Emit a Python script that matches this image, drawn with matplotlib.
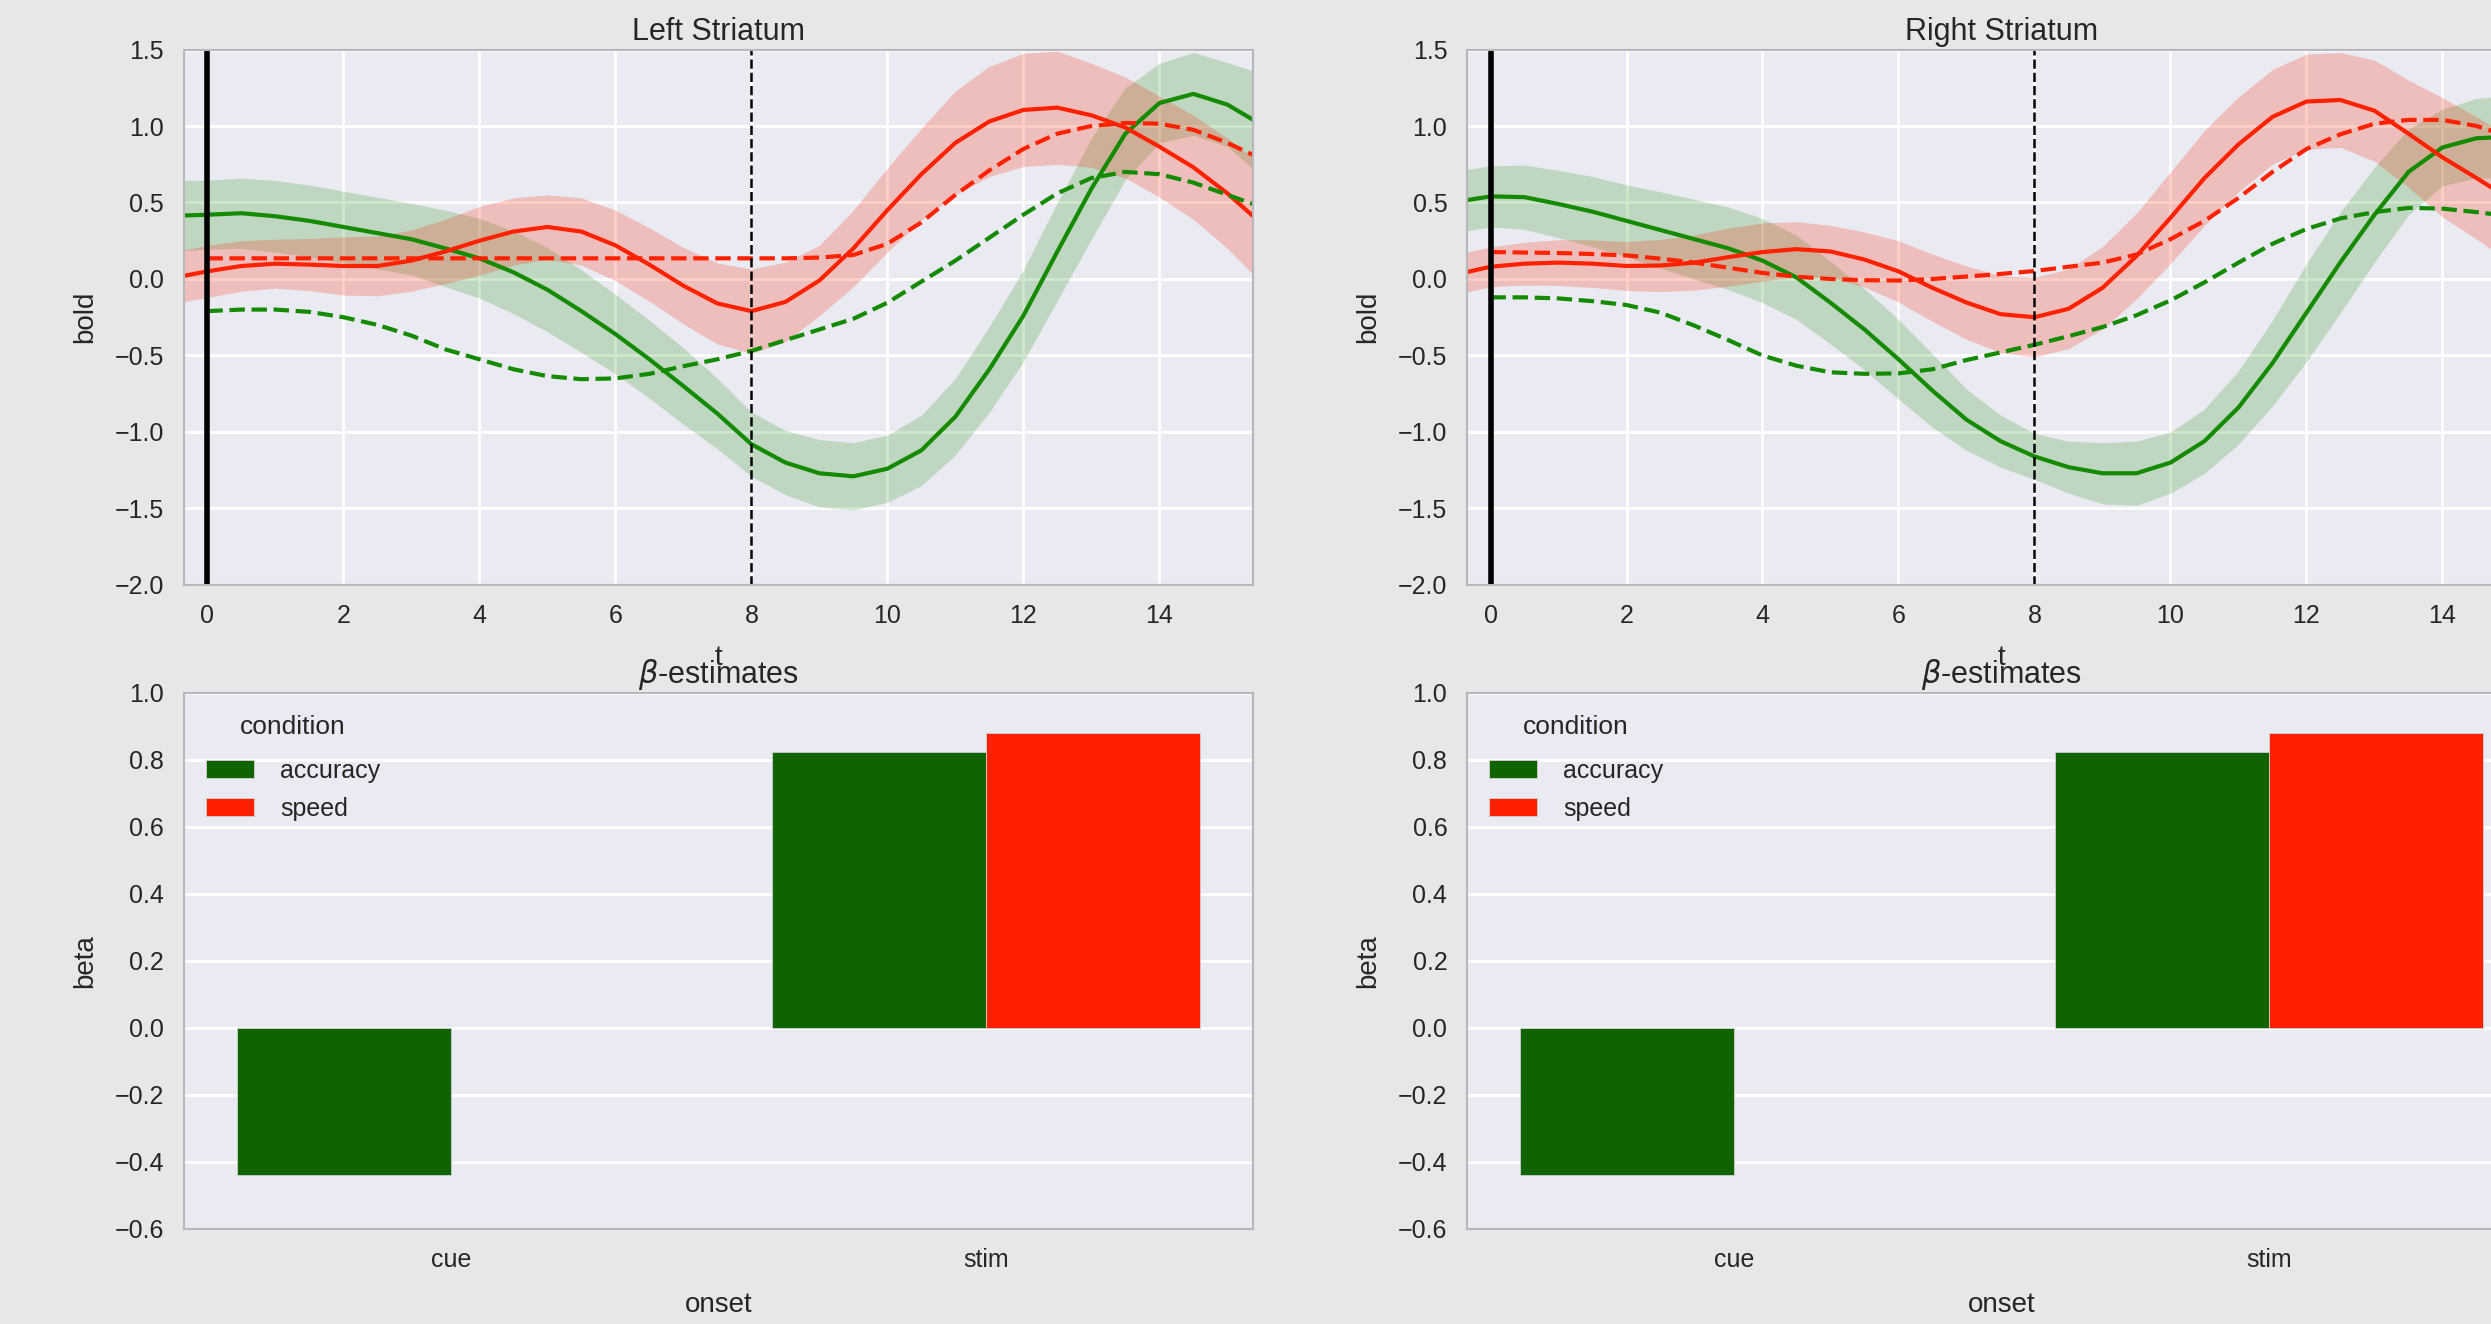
import numpy as np
import matplotlib
matplotlib.use("Agg")
import matplotlib.pyplot as plt

plt.rcParams['font.family'] = ['Liberation Sans', 'DejaVu Sans']

# ---------------------------------------------- time axes
t_solid = [-0.35, 0, 0.5, 1, 1.5, 2, 2.5, 3, 3.5, 4, 4.5, 5, 5.5, 6, 6.5, 7, 7.5,
           8, 8.5, 9, 9.5, 10, 10.5, 11, 11.5, 12, 12.5, 13, 13.5, 14, 14.5, 15, 15.38]
t_dashed = [0, 0.5, 1, 1.5, 2, 2.5, 3, 3.5, 4, 4.5, 5, 5.5, 6, 6.5, 7, 7.5,
            8, 8.5, 9, 9.5, 10, 10.5, 11, 11.5, 12, 12.5, 13, 13.5, 14, 14.5, 15, 15.38]

# ---------------------------------------------- Left striatum
left_acc = [0.415, 0.42, 0.43, 0.41, 0.38, 0.34, 0.30, 0.26, 0.20, 0.135, 0.044, -0.07,
            -0.21, -0.36, -0.525, -0.70, -0.88, -1.08, -1.20, -1.27, -1.29, -1.24, -1.12,
            -0.90, -0.59, -0.24, 0.18, 0.59, 0.95, 1.15, 1.21, 1.14, 1.04]
left_acc_err = [0.23, 0.225, 0.23, 0.234, 0.234, 0.234, 0.234, 0.234, 0.25, 0.26, 0.27,
                0.275, 0.27, 0.26, 0.255, 0.25, 0.23, 0.21, 0.21, 0.22, 0.22, 0.22, 0.23,
                0.25, 0.28, 0.30, 0.32, 0.33, 0.30, 0.26, 0.27, 0.275, 0.32]
left_spd = [0.02, 0.05, 0.085, 0.10, 0.094, 0.085, 0.085, 0.12, 0.18, 0.25, 0.31, 0.34,
            0.31, 0.22, 0.094, -0.044, -0.16, -0.21, -0.15, -0.01, 0.20, 0.45, 0.685,
            0.89, 1.03, 1.105, 1.12, 1.07, 0.99, 0.865, 0.73, 0.56, 0.41]
left_spd_err = [0.17, 0.17, 0.165, 0.16, 0.17, 0.19, 0.195, 0.2, 0.21, 0.225, 0.22, 0.21,
                0.22, 0.23, 0.24, 0.25, 0.265, 0.275, 0.26, 0.23, 0.25, 0.275, 0.30,
                0.34, 0.36, 0.37, 0.37, 0.34, 0.33, 0.33, 0.34, 0.36, 0.38]
left_acc_fit = [-0.21, -0.20, -0.20, -0.215, -0.25, -0.30, -0.37, -0.46, -0.525, -0.59,
                -0.635, -0.655, -0.65, -0.62, -0.57, -0.525, -0.47, -0.40, -0.33, -0.26,
                -0.155, -0.017, 0.12, 0.27, 0.42, 0.56, 0.66, 0.70, 0.685, 0.63, 0.55, 0.49]
left_spd_fit = [0.135, 0.135, 0.135, 0.135, 0.135, 0.135, 0.135, 0.135, 0.135, 0.135,
                0.135, 0.135, 0.135, 0.135, 0.135, 0.135, 0.135, 0.135, 0.14, 0.157,
                0.23, 0.37, 0.55, 0.71, 0.85, 0.95, 1.0, 1.02, 1.015, 0.975, 0.89, 0.81]

# ---------------------------------------------- Right striatum
right_acc = [0.515, 0.54, 0.535, 0.49, 0.44, 0.38, 0.32, 0.26, 0.20, 0.12, 0.01, -0.155,
             -0.33, -0.525, -0.73, -0.92, -1.06, -1.16, -1.23, -1.27, -1.27, -1.20, -1.06,
             -0.84, -0.55, -0.22, 0.11, 0.42, 0.70, 0.86, 0.92, 0.93, 0.90]
right_acc_err = [0.2, 0.2, 0.21, 0.22, 0.23, 0.235, 0.25, 0.26, 0.27, 0.275, 0.275, 0.27,
                 0.265, 0.26, 0.24, 0.2, 0.17, 0.15, 0.17, 0.2, 0.21, 0.2, 0.21, 0.24,
                 0.28, 0.32, 0.33, 0.31, 0.28, 0.25, 0.26, 0.27, 0.28]
right_spd = [0.045, 0.08, 0.10, 0.107, 0.10, 0.085, 0.088, 0.107, 0.143, 0.176, 0.195,
             0.18, 0.127, 0.05, -0.058, -0.154, -0.23, -0.25, -0.195, -0.058, 0.15, 0.40,
             0.66, 0.88, 1.06, 1.16, 1.17, 1.10, 0.95, 0.795, 0.66, 0.52, 0.42]
right_spd_err = [0.13, 0.13, 0.14, 0.15, 0.155, 0.16, 0.17, 0.18, 0.19, 0.19, 0.18, 0.17,
                 0.18, 0.2, 0.22, 0.24, 0.25, 0.26, 0.26, 0.27, 0.28, 0.30, 0.31, 0.31,
                 0.31, 0.31, 0.31, 0.33, 0.35, 0.39, 0.40, 0.41, 0.42]
right_acc_fit = [-0.12, -0.12, -0.127, -0.145, -0.17, -0.22, -0.305, -0.40, -0.50, -0.567,
                 -0.61, -0.62, -0.617, -0.59, -0.53, -0.48, -0.43, -0.374, -0.314, -0.237,
                 -0.14, -0.022, 0.107, 0.23, 0.327, 0.396, 0.437, 0.465, 0.46, 0.437, 0.41, 0.38]
right_spd_fit = [0.176, 0.173, 0.17, 0.163, 0.154, 0.133, 0.107, 0.073, 0.04, 0.015, 0.0,
                 -0.008, -0.01, 0.0, 0.016, 0.033, 0.052, 0.08, 0.107, 0.16, 0.26, 0.38,
                 0.53, 0.70, 0.85, 0.946, 1.015, 1.04, 1.04, 1.0, 0.93, 0.85]

# ---------------------------------------------- beta estimates
onsets = ['cue', 'stim']
conditions = ['accuracy', 'speed']
left_beta = {'accuracy': [-0.44, 0.825], 'speed': [np.nan, 0.88]}
right_beta = {'accuracy': [-0.44, 0.825], 'speed': [np.nan, 0.88]}

# ---------------------------------------------- style
fig_bg = '#e6e7e9'
ax_bg = '#eaeaf2'
text_col = '#262626'
line_green = '#148a00'
line_red = '#ff2200'
bar_colors = {'accuracy': '#106400', 'speed': '#ff2000'}

fig = plt.figure(figsize=(24.91, 13.24), dpi=100, facecolor=fig_bg)

col_left = [0.0737, 0.5888]
col_w = 0.4294


def style_axes(ax):
    ax.set_facecolor(ax_bg)
    ax.grid(True, color='white', linewidth=2.0)
    ax.set_axisbelow(True)
    for sp in ax.spines.values():
        sp.set_color('#b8b8bc')
        sp.set_linewidth(1.5)
    ax.tick_params(length=0, pad=14, labelsize=18, labelcolor=text_col)


def draw_bold(ax, title, acc, acc_err, spd, spd_err, acc_fit, spd_fit):
    style_axes(ax)
    acc = np.array(acc)
    spd = np.array(spd)
    ax.fill_between(t_solid, acc - np.array(acc_err), acc + np.array(acc_err),
                    color=line_green, alpha=0.2, linewidth=0)
    ax.fill_between(t_solid, spd - np.array(spd_err), spd + np.array(spd_err),
                    color=line_red, alpha=0.22, linewidth=0)
    ax.plot(t_solid, acc, color=line_green, lw=3, solid_joinstyle='round')
    ax.plot(t_solid, spd, color=line_red, lw=3, solid_joinstyle='round')
    ax.plot(t_dashed, acc_fit, color=line_green, lw=3, ls='--')
    ax.plot(t_dashed, spd_fit, color=line_red, lw=3, ls='--')
    ax.axvline(0, color='black', lw=4)
    ax.axvline(8, color='black', lw=1.8, ls='--')
    ax.set_xlim(-0.35, 15.38)
    ax.set_ylim(-2.0, 1.5)
    ax.set_xticks(range(0, 15, 2))
    ax.set_yticks(np.arange(-2.0, 1.51, 0.5))
    ax.set_title(title, fontsize=22, color=text_col, pad=7)
    ax.set_xlabel('t', fontsize=20, color=text_col, labelpad=12)
    ax.set_ylabel('bold', fontsize=20, color=text_col, labelpad=12)


def draw_beta(ax, betas):
    style_axes(ax)
    x = np.arange(len(onsets))
    width = 0.4
    for i, cond in enumerate(conditions):
        ax.bar(x - width / 2 + i * width, betas[cond], width=width,
               color=bar_colors[cond], edgecolor='#d0d0d0', linewidth=0.6, label=cond)
    ax.set_xlim(-0.5, 1.5)
    ax.set_ylim(-0.6, 1.0)
    ax.set_xticks(x)
    ax.set_xticklabels(onsets)
    ax.set_yticks(np.arange(-0.6, 1.01, 0.2))
    ax.grid(False, axis='x')
    ax.set_title(r'$\beta$-estimates', fontsize=22, color=text_col, pad=7)
    ax.set_xlabel('onset', fontsize=20, color=text_col, labelpad=14)
    ax.set_ylabel('beta', fontsize=20, color=text_col, labelpad=12)
    leg = ax.legend(title='condition', loc='upper left', frameon=False,
                    fontsize=18, title_fontsize=19, handlelength=1.9,
                    handletextpad=1.05, labelspacing=0.55)
    leg._legend_box.sep = 14
    for txt in leg.get_texts():
        txt.set_color(text_col)
    leg.get_title().set_color(text_col)


ax1 = fig.add_axes([col_left[0], 0.5582, col_w, 0.4044])
ax2 = fig.add_axes([col_left[1], 0.5582, col_w, 0.4044])
ax3 = fig.add_axes([col_left[0], 0.0718, col_w, 0.4048])
ax4 = fig.add_axes([col_left[1], 0.0718, col_w, 0.4048])

draw_bold(ax1, 'Left Striatum', left_acc, left_acc_err, left_spd, left_spd_err,
          left_acc_fit, left_spd_fit)
draw_bold(ax2, 'Right Striatum', right_acc, right_acc_err, right_spd, right_spd_err,
          right_acc_fit, right_spd_fit)
draw_beta(ax3, left_beta)
draw_beta(ax4, right_beta)

fig.savefig('out.png', dpi=100, facecolor=fig_bg)
